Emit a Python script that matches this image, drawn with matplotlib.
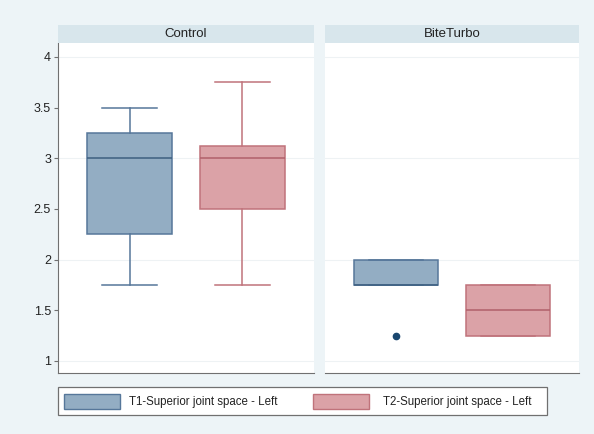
import matplotlib.pyplot as plt
from matplotlib.patches import Rectangle

plt.rcParams['font.family'] = ['Liberation Sans', 'DejaVu Sans']

groups = ['Control', 'BiteTurbo']
series = ['T1-Superior joint space - Left', 'T2-Superior joint space - Left']

# box statistics per group, one entry per series (T1, T2)
whislo = [[1.75, 1.75], [1.75, 1.25]]
q1 = [[2.25, 2.5], [1.75, 1.25]]
med = [[3.0, 3.0], [1.75, 1.5]]
q3 = [[3.25, 3.125], [2.0, 1.75]]
whishi = [[3.5, 3.75], [2.0, 1.75]]
fliers = [[[], []], [[1.25], []]]

yticks = [1, 1.5, 2, 2.5, 3, 3.5, 4]
ytick_labels = ['1', '1.5', '2', '2.5', '3', '3.5', '4']

fills = ['#93adc3', '#dba2a7']
edges = ['#56779a', '#c0737b']
medians = ['#3d5f80', '#b0606a']
bg = '#edf4f7'

fig = plt.figure(figsize=(5.94, 4.34), dpi=100, facecolor=bg)

panel_x = [(58, 314), (325, 579)]
W, H = 594, 434
for g, (x0, x1) in enumerate(panel_x):
    ax = fig.add_axes([x0 / W, 1 - 373 / H, (x1 - x0) / W, (373 - 43) / H])
    ax.set_facecolor('white')
    for s in range(2):
        st = dict(whislo=whislo[g][s], q1=q1[g][s], med=med[g][s],
                  q3=q3[g][s], whishi=whishi[g][s], fliers=fliers[g][s])
        ax.bxp([st], positions=[0.28 + 0.44 * s], widths=0.33,
               capwidths=0.215, patch_artist=True, manage_ticks=False,
               boxprops=dict(facecolor=fills[s], edgecolor=edges[s], lw=1.1),
               whiskerprops=dict(color=edges[s], lw=1.1),
               capprops=dict(color=edges[s], lw=1.1),
               medianprops=dict(color=medians[s], lw=1.1),
               flierprops=dict(marker='o', markersize=4.5,
                               markerfacecolor='#1a476f',
                               markeredgecolor='#1a476f'))
    for yv in [1, 2, 3, 4]:
        ax.axhline(yv, color='#eef2f4', lw=0.8, zorder=0)
    ax.set_xlim(0, 1)
    ax.set_ylim(0.88, 4.138)
    ax.set_xticks([])
    for side in ['top', 'right']:
        ax.spines[side].set_visible(False)
    ax.spines['bottom'].set_color('#707070')
    if g == 0:
        ax.spines['left'].set_color('#707070')
        ax.set_yticks(yticks)
        ax.set_yticklabels(ytick_labels, fontsize=9, color='#222222')
        ax.tick_params(axis='y', length=3, color='#707070', pad=2)
    else:
        ax.spines['left'].set_visible(False)
        ax.set_yticks([])

    # panel header strip
    fig.patches.append(Rectangle((x0 / W, 1 - 43 / H), (x1 - x0) / W, 18 / H,
                                 transform=fig.transFigure, facecolor='#d8e6ec',
                                 edgecolor='none'))
    fig.text((x0 + x1) / 2 / W, 1 - 34 / H, groups[g], ha='center', va='center',
             fontsize=9.5, color='#222222')

# legend box
fig.patches.append(Rectangle((58 / W, 1 - 415 / H), (547 - 58) / W, 28 / H,
                             transform=fig.transFigure, facecolor='white',
                             edgecolor='#707070', lw=0.9))
for s, (px, tx) in enumerate([(64, 129), (313, 383)]):
    fig.patches.append(Rectangle((px / W, 1 - 409 / H), 56 / W, 15 / H,
                                 transform=fig.transFigure, facecolor=fills[s],
                                 edgecolor=edges[s], lw=1.0))
    fig.text(tx / W, 1 - 401.5 / H, series[s], ha='left', va='center',
             fontsize=8.3, color='#222222')

fig.savefig('out.png', dpi=100, facecolor=bg)
